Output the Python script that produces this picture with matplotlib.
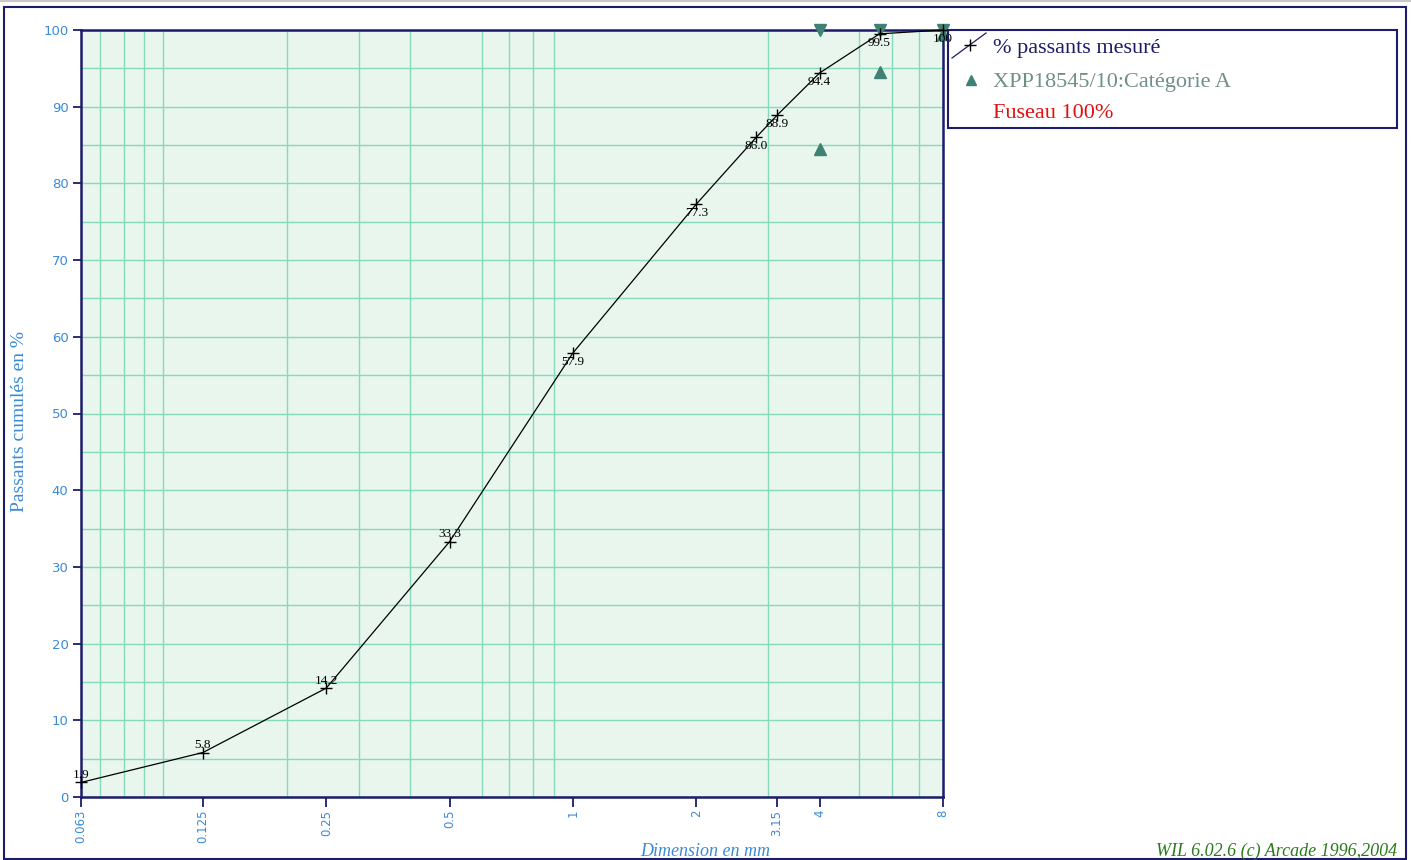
import matplotlib
matplotlib.use("Agg")
import matplotlib.pyplot as plt
from matplotlib.ticker import LogLocator, FixedLocator, NullFormatter, MultipleLocator
from matplotlib.patches import Rectangle
from matplotlib.lines import Line2D
from matplotlib.transforms import offset_copy

# measured grading curve
sieve_mm = [0.063, 0.125, 0.25, 0.5, 1, 2, 2.8, 3.15, 4, 5.6, 8]
passing = [1.9, 5.8, 14.2, 33.3, 57.9, 77.3, 86.0, 88.9, 94.4, 99.5, 100]
passing_labels = ["1.9", "5.8", "14.2", "33.3", "57.9", "77.3", "86.0", "88.9", "94.4", "99.5", "100"]

# XPP18545/10 category A limits
spec_mm = [4, 5.6, 8]
spec_low = [85, 95, 100]
spec_high = [100, 100, 100]

xtick_vals = [0.063, 0.125, 0.25, 0.5, 1, 2, 3.15, 4, 8]
xtick_labels = ["0.063", "0.125", "0.25", "0.5", "1", "2", "3.15", "4", "8"]

NAVY = "#1c1c6b"
BLUE = "#3a8ad6"
TEAL = "#3f8273"
GRID = "#86d9bd"
BG = "#e8f6ee"

fig = plt.figure(figsize=(14.11, 8.6), dpi=100)
ax = fig.add_axes([81 / 1411, 1 - 797 / 860, (943 - 81) / 1411, (797 - 30) / 860])
ax.set_facecolor(BG)

ax.set_xscale("log")
ax.set_xlim(0.063, 8)
ax.set_ylim(0, 100)

# ticks
ax.xaxis.set_major_locator(FixedLocator(xtick_vals))
ax.set_xticklabels(xtick_labels, rotation=90, fontsize=8.5, color=BLUE, family="DejaVu Sans")
ax.xaxis.set_minor_locator(LogLocator(base=10, subs=range(1, 10), numticks=20))
ax.xaxis.set_minor_formatter(NullFormatter())
ax.yaxis.set_major_locator(MultipleLocator(10))
ax.yaxis.set_minor_locator(MultipleLocator(5))
ax.tick_params(axis="both", which="major", colors=NAVY, labelcolor=BLUE, width=1.3)
ax.tick_params(axis="x", which="major", length=7, pad=2)
ax.tick_params(axis="y", which="major", length=6, labelsize=9.5, pad=3)
ax.tick_params(which="minor", length=0)

ax.set_axisbelow(True)
ax.grid(False, which="major", axis="x")
ax.grid(True, which="minor", axis="x", color=GRID, linewidth=1.0)
ax.grid(True, which="both", axis="y", color=GRID, linewidth=1.0)

for s in ax.spines.values():
    s.set_color(NAVY)
    s.set_linewidth(1.8)

# measured curve
ax.plot(sieve_mm, passing, color="black", linewidth=0.9, marker="+",
        markersize=8, markeredgewidth=1.0, clip_on=False, zorder=4)
for x, y, lab in zip(sieve_mm, passing, passing_labels):
    if y < 45:
        ax.annotate(lab, (x, y), xytext=(0, 1), textcoords="offset points",
                    ha="center", va="bottom", fontsize=9.5, family="Liberation Serif",
                    color="black", zorder=5, annotation_clip=False)
    else:
        ax.annotate(lab, (x, y), xytext=(0, -2), textcoords="offset points",
                    ha="center", va="top", fontsize=9.5, family="Liberation Serif",
                    color="black", zorder=5, annotation_clip=False)

# spec limits (the lower-limit triangles sit with their tip on the value)
low_tr = offset_copy(ax.transData, fig=fig, x=0, y=-4, units="dots")
ax.plot(spec_mm, spec_low, linestyle="none", marker="^", markersize=8,
        color=TEAL, clip_on=False, zorder=3, transform=low_tr)
ax.plot(spec_mm, spec_high, linestyle="none", marker="v", markersize=8,
        color=TEAL, clip_on=False, zorder=3)

# axis titles
fig.text(20 / 1411, 1 - 421 / 860, "Passants cumulés en %", rotation=90, ha="center",
         va="center", fontsize=14, color=BLUE, family="Liberation Serif")
fig.text(705 / 1411, 1 - 852 / 860, "Dimension en mm", ha="center", va="center",
         fontsize=13, color=BLUE, family="Liberation Serif", style="italic")
fig.text(1397 / 1411, 1 - 851 / 860, "WIL 6.02.6 (c) Arcade 1996,2004", ha="right",
         va="center", fontsize=13, color="#2a7a1a", family="Liberation Serif", style="italic")

# legend box drawn by hand
W, H = 1411.0, 860.0
fig.add_artist(Rectangle((948 / W, 1 - 128 / H), (1397 - 948) / W, (128 - 30) / H,
                         transform=fig.transFigure, fill=False, edgecolor=NAVY, linewidth=1.5))
fig.add_artist(Line2D([952 / W, 986 / W], [1 - 58 / H, 1 - 33 / H], transform=fig.transFigure,
                      color=NAVY, linewidth=0.9))
fig.add_artist(Line2D([970 / W], [1 - 45 / H], transform=fig.transFigure, color="black",
                      marker="+", markersize=8, linestyle="none"))
fig.add_artist(Line2D([971 / W], [1 - 80 / H], transform=fig.transFigure, color=TEAL,
                      marker="^", markersize=7, linestyle="none"))
fig.text(993 / W, 1 - 48 / H, "% passants mesuré", ha="left", va="center",
         fontsize=16, color=NAVY, family="Liberation Serif")
fig.text(993 / W, 1 - 82 / H, "XPP18545/10:Catégorie A", ha="left", va="center",
         fontsize=16, color="#6f8f8a", family="Liberation Serif")
fig.text(993 / W, 1 - 114 / H, "Fuseau 100%", ha="left", va="center",
         fontsize=16, color="#e01010", family="Liberation Serif")

# outer frame
fig.add_artist(Rectangle((4 / W, 1 / H), (1406 - 4) / W, (852) / H,
                         transform=fig.transFigure, fill=False, edgecolor=NAVY, linewidth=1.5))
fig.add_artist(Line2D([0, 1], [1 - 1 / H, 1 - 1 / H], transform=fig.transFigure,
                      color="#c8c8c8", linewidth=1.5))

fig.savefig("out.png", dpi=100)
